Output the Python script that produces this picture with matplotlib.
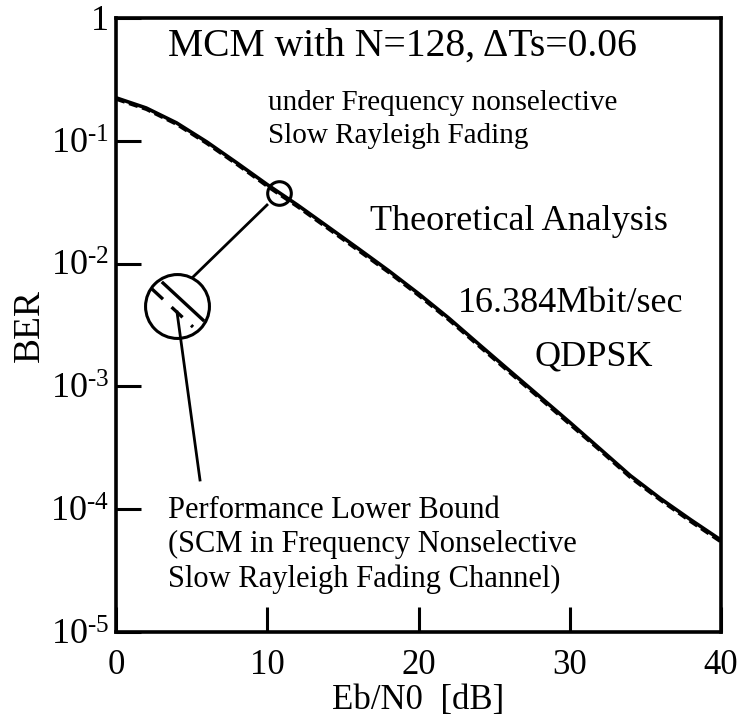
import matplotlib

matplotlib.use("Agg")
import matplotlib.pyplot as plt
import numpy as np

plt.rcParams["font.family"] = ["Liberation Serif", "DejaVu Serif"]
plt.rcParams["mathtext.fontset"] = "custom"
plt.rcParams["mathtext.rm"] = "Liberation Serif"
plt.rcParams["mathtext.it"] = "Liberation Serif:italic"

# Eb/N0 [dB] and BER
ebn0_db = [0, 2, 4, 6, 8, 10, 12, 14, 16, 18, 20, 22, 24, 26, 28, 30, 32, 34, 36, 38, 40]
ber_theory = [0.224, 0.185, 0.14, 0.098, 0.066, 0.044, 0.030, 0.020, 0.0133, 0.0088,
              0.0057, 0.0036, 0.0022, 0.00135, 0.00083, 0.00051, 0.00031, 0.000188,
              0.000122, 0.000082, 0.000056]
ber_bound = [0.218, 0.180, 0.136, 0.095, 0.064, 0.0425, 0.029, 0.0193, 0.0128, 0.0085,
             0.0055, 0.00347, 0.00212, 0.0013, 0.0008, 0.00049, 0.0003, 0.000181,
             0.000118, 0.000079, 0.000054]

x_ticks = [0, 10, 20, 30, 40]
y_ticks = [1e-5, 1e-4, 1e-3, 1e-2, 1e-1, 1]
y_tick_labels = [r"$\mathregular{10^{\text{-}5}}$", r"$\mathregular{10^{\text{-}4}}$",
                 r"$\mathregular{10^{\text{-}3}}$", r"$\mathregular{10^{\text{-}2}}$",
                 r"$\mathregular{10^{\text{-}1}}$", "1"]

W, H = 743, 717
AX_L, AX_R, AX_T, AX_B = 116, 721, 18, 632

fig = plt.figure(figsize=(W / 100, H / 100), dpi=100)
ax = fig.add_axes([AX_L / W, (H - AX_B) / H, (AX_R - AX_L) / W, (AX_B - AX_T) / H])


def afrac(px, py):
    # figure pixel -> axes fraction (used only for annotation graphics)
    return (px - AX_L) / (AX_R - AX_L), (AX_B - py) / (AX_B - AX_T)


ax.plot(ebn0_db, ber_theory, color="black", lw=2.6, solid_capstyle="butt")
ax.plot(ebn0_db, ber_bound, color="black", lw=2.2, ls=(0, (3, 1.5)))

ax.set_yscale("log")
ax.set_xlim(0, 40)
ax.set_ylim(1e-5, 1)
ax.set_xticks(x_ticks)
ax.set_xticklabels([str(v) for v in x_ticks])
ax.set_yticks(y_ticks)
ax.set_yticklabels(y_tick_labels)
ax.minorticks_off()
ax.tick_params(axis="both", direction="in", length=18, width=2.2, labelsize=25)
ax.tick_params(axis="y", labelsize=26, pad=5)
ax.tick_params(axis="x", pad=12)
for sp in ax.spines.values():
    sp.set_linewidth(2.6)

ax.set_xlabel("Eb/N0  [dB]", fontsize=25, labelpad=2)
ax.set_ylabel("BER", fontsize=27)
ax.yaxis.set_label_coords(-0.115, 0.5)

# zoom circle on the curve and magnified view
x_mark = 10.8
y_mark = 10 ** np.interp(x_mark, ebn0_db, np.log10(ber_theory))
ax.plot([x_mark], [y_mark], "o", ms=17, mfc="none", mec="black", mew=2.2)

big_c = afrac(177, 306)
ax.plot([big_c[0]], [big_c[1]], "o", ms=46, mfc="none", mec="black", mew=2.2,
        transform=ax.transAxes, clip_on=False)

for (x0, y0), (x1, y1), st in [((163, 283), (203, 320), "-"),
                               ((152, 289), (193, 327), (0, (4.5, 3.5)))]:
    p0, p1 = afrac(x0, y0), afrac(x1, y1)
    ax.plot([p0[0], p1[0]], [p0[1], p1[1]], color="black", lw=2.4, ls=st,
            transform=ax.transAxes)

for (x0, y0), (x1, y1) in [((267, 205), (193, 277)), ((177, 312), (200, 480))]:
    p0, p1 = afrac(x0, y0), afrac(x1, y1)
    ax.plot([p0[0], p1[0]], [p0[1], p1[1]], color="black", lw=2.0,
            transform=ax.transAxes)

ax.text(*afrac(168, 46), "MCM with N=128, \u0394Ts=0.06", fontsize=28.5, va="center", transform=ax.transAxes)
ax.text(*afrac(268, 103), "under Frequency nonselective", fontsize=21, va="center", transform=ax.transAxes)
ax.text(*afrac(268, 136), "Slow Rayleigh Fading", fontsize=21, va="center", transform=ax.transAxes)
ax.text(*afrac(370, 222), "Theoretical Analysis", fontsize=26, va="center", transform=ax.transAxes)
ax.text(*afrac(458, 303), "16.384Mbit/sec", fontsize=26, va="center", transform=ax.transAxes)
ax.text(*afrac(535, 357), "QDPSK", fontsize=26, va="center", transform=ax.transAxes)
ax.text(*afrac(168, 545), "Performance Lower Bound\n(SCM in Frequency Nonselective\nSlow Rayleigh Fading Channel)",
        fontsize=22, va="center", linespacing=1.22, transform=ax.transAxes)

fig.savefig("out.png", dpi=100)
plt.close(fig)
